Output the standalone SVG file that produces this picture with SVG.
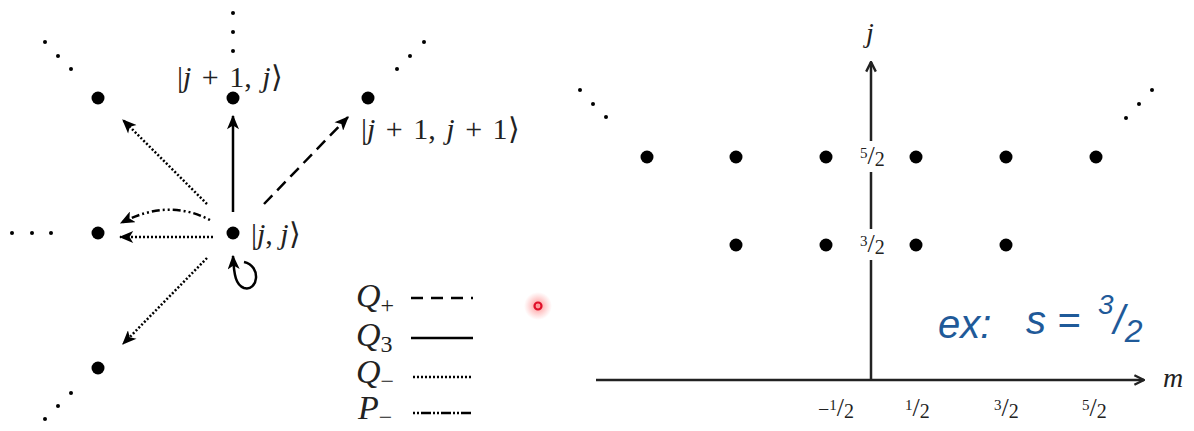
<svg xmlns="http://www.w3.org/2000/svg" width="1194" height="431" viewBox="0 0 1194 431">
<style>
.dot{fill:#000}
.sd{fill:#000}
.t{font-family:"Liberation Serif",serif;font-size:30px;fill:#222}
.q{font-family:"Liberation Serif",serif;font-size:34px;fill:#222}
.av{font-family:"Liberation Serif",serif;font-size:28px;font-style:italic;fill:#222}
.i{font-style:italic}
.sm{font-family:"Liberation Serif",serif;font-size:20px;fill:#222}
.ln{stroke:#000;stroke-width:2.5;fill:none}
.ax{stroke:#222;stroke-width:2.5;fill:none}
.hw{font-family:"Liberation Sans",sans-serif;font-style:italic;fill:#1f5a99}
</style>
<defs>
<marker id="ah" viewBox="0 0 12 10" refX="11" refY="5" markerWidth="15" markerHeight="12" orient="auto" markerUnits="userSpaceOnUse">
<path d="M0,0 L12,5 L0,10 L3,5 Z" fill="#000"/>
</marker>
<marker id="ax" viewBox="0 0 10 10" refX="9" refY="5" markerWidth="12" markerHeight="12" orient="auto" markerUnits="userSpaceOnUse">
<path d="M1,1 L9,5 L1,9" fill="none" stroke="#222" stroke-width="2"/>
</marker>
<radialGradient id="glow">
<stop offset="0" stop-color="#ff7070" stop-opacity="0.8"/>
<stop offset="1" stop-color="#ff9090" stop-opacity="0"/>
</radialGradient>
</defs>
<rect width="1194" height="431" fill="#fff"/>

<g id="left-nodes">
<g id="n-tl"><circle class="dot" cx="98" cy="98" r="6.5"/></g>
<g id="n-t"><circle class="dot" cx="233" cy="98" r="6.5"/><text class="t" x="177" y="87" word-spacing="3">|<tspan class="i">j</tspan> + 1, <tspan class="i">j</tspan>⟩</text></g>
<g id="n-tr"><circle class="dot" cx="368" cy="98" r="6.5"/><text class="t" x="361" y="139" word-spacing="3">|<tspan class="i">j</tspan> + 1, <tspan class="i">j</tspan> + 1⟩</text></g>
<g id="n-l"><circle class="dot" cx="98" cy="233" r="6.5"/></g>
<g id="n-c"><circle class="dot" cx="233" cy="233" r="6.5"/><text class="t" x="251" y="244">|<tspan class="i">j</tspan>, <tspan class="i">j</tspan>⟩</text></g>
<g id="n-bl"><circle class="dot" cx="98" cy="368" r="6.5"/></g>
</g>

<g id="ellipses">
<circle class="sd" cx="233" cy="13" r="2"/><circle class="sd" cx="233" cy="32" r="2"/><circle class="sd" cx="233" cy="51" r="2"/>
<circle class="sd" cx="45" cy="42" r="2"/><circle class="sd" cx="58" cy="56" r="2"/><circle class="sd" cx="71" cy="69" r="2"/>
<circle class="sd" cx="424" cy="42" r="2"/><circle class="sd" cx="410" cy="56" r="2"/><circle class="sd" cx="397" cy="69" r="2"/>
<circle class="sd" cx="12" cy="233" r="2"/><circle class="sd" cx="32" cy="233" r="2"/><circle class="sd" cx="51" cy="233" r="2"/>
<circle class="sd" cx="71" cy="393" r="2"/><circle class="sd" cx="58" cy="406" r="2"/><circle class="sd" cx="45" cy="419" r="2"/>
<circle class="sd" cx="580" cy="90" r="2"/><circle class="sd" cx="593" cy="104" r="2"/><circle class="sd" cx="606" cy="117" r="2"/>
<circle class="sd" cx="1126" cy="118" r="2"/><circle class="sd" cx="1139" cy="104" r="2"/><circle class="sd" cx="1152" cy="90" r="2"/>
</g>

<g id="connectors">
<line class="ln" x1="233" y1="212" x2="233" y2="116" marker-end="url(#ah)"/>
<line class="ln" x1="264" y1="204" x2="348" y2="117" stroke-dasharray="12 7" marker-end="url(#ah)"/>
<line class="ln" x1="207" y1="204" x2="123" y2="120" stroke-dasharray="2 2" marker-end="url(#ah)"/>
<line class="ln" x1="213" y1="237" x2="120" y2="237" stroke-dasharray="2 2" marker-end="url(#ah)"/>
<path class="ln" d="M210,220 Q168,198 121,223" stroke-dasharray="2 3 2 3 8 3" marker-end="url(#ah)"/>
<line class="ln" x1="207" y1="258" x2="123" y2="344" stroke-dasharray="2 2" marker-end="url(#ah)"/>
<path class="ln" d="M244,262 C262,266 258,292 244,288 C236,285 234,276 233,256" marker-end="url(#ah)"/>
</g>

<g id="legend">
<text class="q" x="356" y="307"><tspan class="i">Q</tspan><tspan style="font-size:24px" dy="6">+</tspan></text>
<line class="ln" x1="411" y1="298" x2="473" y2="298" stroke-dasharray="12 8"/>
<text class="q" x="356" y="346"><tspan class="i">Q</tspan><tspan style="font-size:24px" dy="6">3</tspan></text>
<line class="ln" x1="411" y1="338" x2="473" y2="338"/>
<text class="q" x="356" y="383"><tspan class="i">Q</tspan><tspan style="font-size:24px" dy="6">−</tspan></text>
<line class="ln" x1="413" y1="377" x2="473" y2="377" stroke-width="2" stroke-dasharray="2 2"/>
<text class="q" x="358" y="419"><tspan class="i">P</tspan><tspan style="font-size:24px" dy="6">−</tspan></text>
<line class="ln" x1="413" y1="413" x2="473" y2="413" stroke-dasharray="2 2 2 2 10 2"/>
</g>

<g id="pointer">
<circle cx="538" cy="306" r="14" fill="url(#glow)"/>
<circle cx="538" cy="306" r="3.5" fill="none" stroke="#e0102a" stroke-width="2.2"/>
</g>

<g id="axes">
<line class="ax" x1="596" y1="380" x2="1144" y2="380" marker-end="url(#ax)"/>
<line class="ax" x1="871" y1="380" x2="871" y2="62" marker-end="url(#ax)"/>
<text class="av" x="866" y="42">j</text>
<text class="av" x="1163" y="387">m</text>
</g>

<g id="right-nodes">
<circle class="dot" cx="647" cy="157" r="6.5"/>
<circle class="dot" cx="736" cy="157" r="6.5"/>
<circle class="dot" cx="826" cy="157" r="6.5"/>
<circle class="dot" cx="916" cy="157" r="6.5"/>
<circle class="dot" cx="1006" cy="157" r="6.5"/>
<circle class="dot" cx="1096" cy="157" r="6.5"/>
<circle class="dot" cx="736" cy="245" r="6.5"/>
<circle class="dot" cx="826" cy="245" r="6.5"/>
<circle class="dot" cx="916" cy="245" r="6.5"/>
<circle class="dot" cx="1006" cy="245" r="6.5"/>
</g>

<g id="tick-labels">
<rect x="859" y="141" width="35" height="31" fill="#fff"/>
<text class="sm" x="860" y="164"><tspan font-size="15" dy="-6">5</tspan><tspan font-size="26" dy="6">/</tspan><tspan dy="2">2</tspan></text>
<rect x="859" y="229" width="35" height="31" fill="#fff"/>
<text class="sm" x="860" y="252"><tspan font-size="15" dy="-6">3</tspan><tspan font-size="26" dy="6">/</tspan><tspan dy="2">2</tspan></text>
<text class="sm" x="818" y="416">−<tspan font-size="15" dy="-6">1</tspan><tspan font-size="26" dy="6">/</tspan><tspan dy="2">2</tspan></text>
<text class="sm" x="905" y="416"><tspan font-size="15" dy="-6">1</tspan><tspan font-size="26" dy="6">/</tspan><tspan dy="2">2</tspan></text>
<text class="sm" x="994" y="416"><tspan font-size="15" dy="-6">3</tspan><tspan font-size="26" dy="6">/</tspan><tspan dy="2">2</tspan></text>
<text class="sm" x="1082" y="416"><tspan font-size="15" dy="-6">5</tspan><tspan font-size="26" dy="6">/</tspan><tspan dy="2">2</tspan></text>
</g>

<g id="handwriting">
<text class="hw" x="938" y="338" font-size="40">ex:</text>
<text class="hw" x="1026" y="334" font-size="40">s =</text>
<text class="hw" x="1098" y="314" font-size="28">3<tspan font-size="40" dy="20">/</tspan><tspan font-size="32" dy="8">2</tspan></text>
</g>
</svg>
